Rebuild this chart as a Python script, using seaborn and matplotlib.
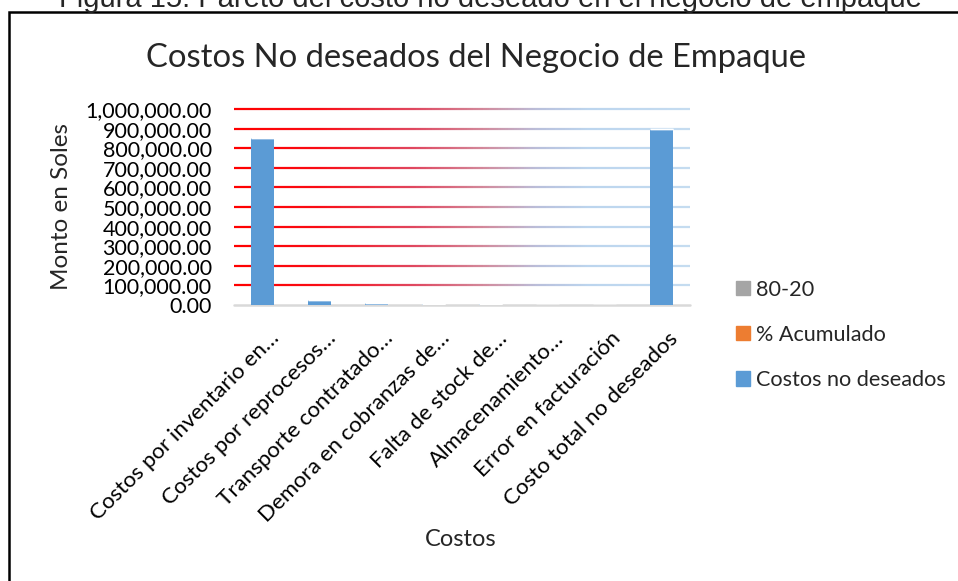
import numpy as np
import pandas as pd
import matplotlib
matplotlib.use("Agg")
import matplotlib.pyplot as plt
import seaborn as sns
from matplotlib.collections import LineCollection
from matplotlib.colors import LinearSegmentedColormap
from matplotlib.patches import Patch, Rectangle
from matplotlib.ticker import FuncFormatter
from matplotlib.transforms import ScaledTranslation

categories = [
    "Costos por inventario en\u2026",
    "Costos por reprocesos\u2026",
    "Transporte contratado\u2026",
    "Demora en cobranzas de\u2026",
    "Falta de stock de\u2026",
    "Almacenamiento\u2026",
    "Error en facturación",
    "Costo total no deseados",
]
costos = [853000, 25000, 8000, 5000, 3500, 2000, 1500, 898000]
acumulado = [0.95, 0.978, 0.987, 0.993, 0.997, 0.999, 1.0, 1.0]
ochenta_veinte = [0.8, 0.8, 0.8, 0.8, 0.8, 0.8, 0.8, 0.8]
yticks = list(range(0, 1000001, 100000))

sns.set_theme(style="white")
plt.rcParams["font.family"] = ["Lato", "DejaVu Sans"]

fig = plt.figure(figsize=(9.58, 5.81), dpi=100)
ax = fig.add_axes([234 / 958, 1 - 305 / 581, 456 / 958, 196 / 581])

df = pd.DataFrame({"Costos": categories, "Valor": costos})
sns.barplot(data=df, x="Costos", y="Valor", color="#5b9bd5", width=0.4,
            saturation=1, ax=ax, zorder=3, edgecolor="none")
pos = np.arange(len(categories))
ax.bar(pos, acumulado, bottom=costos, width=0.4, color="#ed7d31", zorder=3)
ax.bar(pos, ochenta_veinte, bottom=np.array(costos) + np.array(acumulado),
       width=0.4, color="#a5a5a5", zorder=3)

ax.set_xlim(-0.5, len(categories) - 0.5)
ax.set_ylim(0, 1000000)
ax.set_yticks(yticks)
ax.yaxis.set_major_formatter(FuncFormatter(lambda v, p: f"{v:,.2f}"))
ax.grid(False)
for s in ax.spines.values():
    s.set_visible(False)

# gradient gridlines
cmap = LinearSegmentedColormap.from_list("g", [
    (0.0, "#ff0000"), (0.18, "#fa0c14"), (0.40, "#df4a62"),
    (0.55, "#d28a9c"), (0.67, "#b9c0dc"), (0.78, "#bcd5ee"), (1.0, "#c5dcf0")])
N = 200
xs = np.linspace(-0.5, len(categories) - 0.5, N + 1)
for yv in yticks[1:]:
    segs = [[(xs[i], yv), (xs[i + 1], yv)] for i in range(N)]
    cols = [cmap((i + 0.5) / N) for i in range(N)]
    lc = LineCollection(segs, colors=cols, linewidths=1.6, zorder=1,
                        clip_on=False)
    ax.add_collection(lc)
ax.axhline(0, color="#d9d9d9", lw=1.8, zorder=2, clip_on=False)

ax.tick_params(axis="y", length=0, labelsize=15.5, colors="black", pad=16)
ax.tick_params(axis="x", length=0, labelsize=16, colors="black", pad=11)
ax.set_xticks(pos)
ax.set_xticklabels(categories, rotation=45, ha="right", va="top",
                   rotation_mode="anchor")
offset = ScaledTranslation(6 / 100, -8 / 100, fig.dpi_scale_trans)
for lab in ax.get_xticklabels():
    lab.set_transform(lab.get_transform() + offset)
ax.set_xlabel("")
ax.set_ylabel("")

fig.text(62 / 958, 1 - 207 / 581, "Monto en Soles", rotation=90,
         ha="center", va="center", fontsize=17.5)
fig.text(461 / 958, 1 - 539 / 581, "Costos", ha="center", va="center",
         fontsize=17)
fig.text(476 / 958, 1 - 58 / 581, "Costos No deseados del Negocio de Empaque",
         ha="center", va="center", fontsize=23.6)
fig.text(490 / 958, 1 - 7 / 581,
         "Figura 15. Pareto del costo no deseado en el negocio de empaque",
         ha="center", va="baseline", fontsize=21,
         family=["Liberation Sans", "DejaVu Sans"])

fig.patches.append(Rectangle((9 / 958, -0.1), 1.2, 1 - 12 / 581 + 0.1,
                             transform=fig.transFigure, fill=False,
                             edgecolor="black", lw=1.8))

handles = [Patch(color="#a5a5a5"), Patch(color="#ed7d31"), Patch(color="#5b9bd5")]
labels = ["80-20", "% Acumulado", "Costos no deseados"]
fig.legend(handles, labels, loc="upper left",
           bbox_to_anchor=(727 / 958, 1 - 271 / 581), frameon=False,
           fontsize=15.6, handlelength=0.65, handleheight=0.65,
           handletextpad=0.28, labelspacing=1.16, borderaxespad=0)

fig.savefig("out.png", dpi=100)
